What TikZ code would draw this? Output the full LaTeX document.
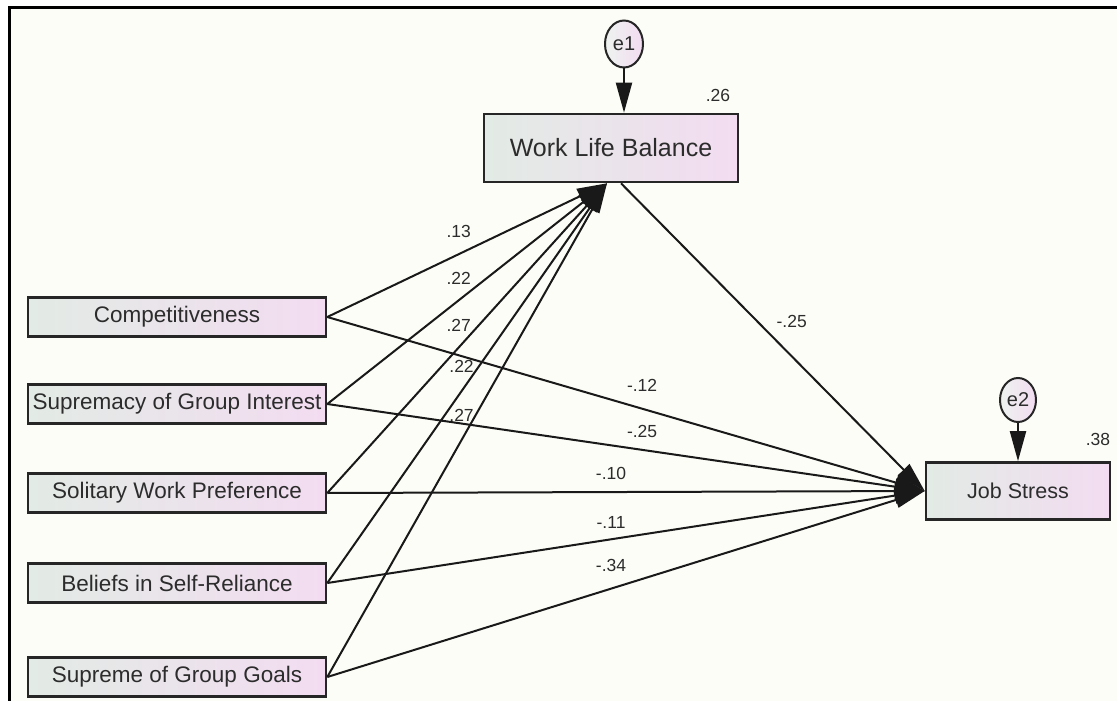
\documentclass[tikz,border=0pt]{standalone}
\usepackage{fontspec}
\setmainfont{Liberation Sans}
\usetikzlibrary{arrows.meta,shapes.geometric,positioning}

\definecolor{paper}{HTML}{FDFDF7}
\definecolor{boxgreen}{HTML}{E2EBE5}
\definecolor{boxpink}{HTML}{F3DCF1}
\definecolor{ink}{HTML}{2C2C2C}

\begin{document}
\begin{tikzpicture}[x=1pt, y=-1pt,
  var/.style={draw=black!85, line width=2.6pt, left color=boxgreen, right color=boxpink,
    text=ink, font=\fontsize{22.5}{25}\selectfont, minimum width=298pt, minimum height=39pt, inner sep=0pt},
  err/.style={ellipse, draw=black!85, line width=2pt, left color=boxgreen!60!white, right color=boxpink,
    text=ink, font=\fontsize{20}{22}\selectfont, minimum width=38pt, minimum height=47pt, inner sep=0pt},
  link/.style={line width=2pt, black!90, -{Triangle[length=30pt,width=16pt]}},
  coef/.style={text=ink, font=\fontsize{17.5}{19}\selectfont, inner sep=1pt}]
\useasboundingbox (0,0) rectangle (1117,701);
\fill[white] (0,0) rectangle (1117,701);
\fill[paper] (9,8) rectangle (1117,701);
\draw[line width=3pt] (9,701) -- (9,8) -- (1117,8);

\node[var, minimum width=254pt, minimum height=68pt, font=\fontsize{25}{28}\selectfont] (wlb) at (611,148) {Work Life Balance};
\node[var, minimum width=184pt, minimum height=57pt, font=\fontsize{21.5}{24}\selectfont] (js) at (1018,491) {Job Stress};
\node[err] (e1) at (624,44) {e1};
\node[err, minimum width=36pt, minimum height=44pt] (e2) at (1018,400) {e2};
\node[coef, above left=10pt and 8pt of wlb.north east] (r2wlb) {.26};
\node[coef, above left=14pt and 0pt of js.north east] (r2js) {.38};

\node[var] (comp) at (177,317) {Competitiveness};
\node[var] (supr) at (177,404) {Supremacy of Group Interest};
\node[var] (soli) at (177,493) {Solitary Work Preference};
\node[var] (beli) at (177,583) {Beliefs in Self-Reliance};
\node[var] (goal) at (177,677) {Supreme of Group Goals};

\draw[link] (e1.south) -- (e1.south |- wlb.north);
\draw[link] (e2.south) -- (e2.south |- js.north);

\draw[link] (comp.east) -- node[coef, pos=.47, above=14pt] {.13} ([xshift=-4pt]wlb.south);
\draw[link] (supr.east) -- node[coef, pos=.47, above=14pt] {.22} ([xshift=-4pt]wlb.south);
\draw[link] (soli.east) -- node[coef, pos=.47, above=14pt] {.27} ([xshift=-4pt]wlb.south);
\draw[link] (beli.east) -- node[coef, pos=.48, above=17pt] {.22} ([xshift=-4pt]wlb.south);
\draw[link] (goal.east) -- node[coef, pos=.48, above=17pt] {.27} ([xshift=-4pt]wlb.south);

\draw[link] ([xshift=10pt]wlb.south) -- node[coef, pos=.45, right=17pt] {-.25} (js.west);

\draw[link] (comp.east) -- node[coef, pos=.527, above=15pt] {-.12} (js.west);
\draw[link] (supr.east) -- node[coef, pos=.527, above=10pt] {-.25} (js.west);
\draw[link] (soli.east) -- node[coef, pos=.475, above=10pt] {-.10} (js.west);
\draw[link] (beli.east) -- node[coef, pos=.475, above=9pt] {-.11} (js.west);
\draw[link] (goal.east) -- node[coef, pos=.475, above=15pt] {-.34} (js.west);
\end{tikzpicture}
\end{document}
